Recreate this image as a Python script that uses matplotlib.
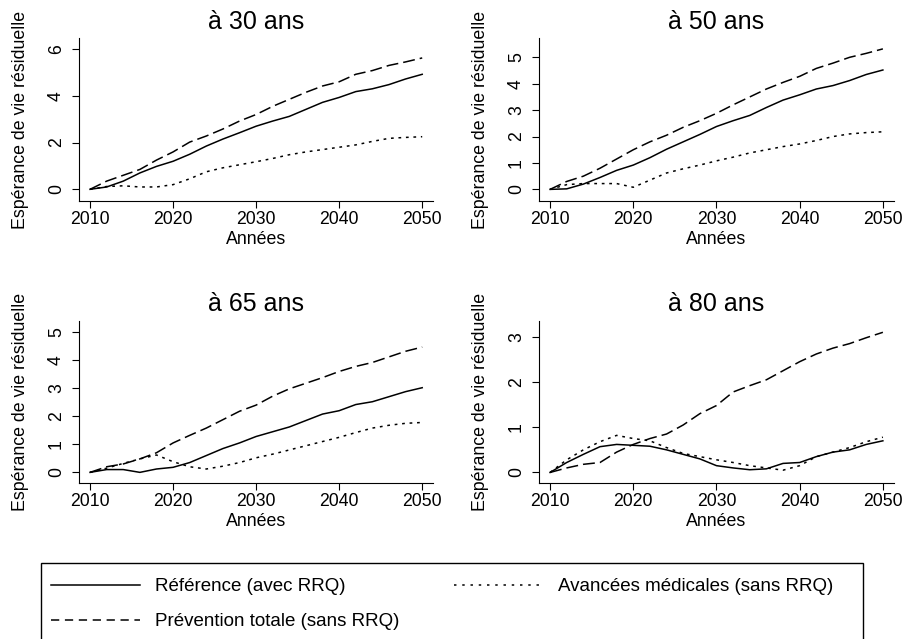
import matplotlib
matplotlib.use("Agg")
import matplotlib.pyplot as plt
from matplotlib.lines import Line2D
from matplotlib.patches import Rectangle

plt.rcParams['font.family'] = ['Liberation Sans', 'DejaVu Sans']

annees = list(range(2010, 2051, 2))

# à 30 ans
ref_30 = [0, 0.1, 0.35, 0.7, 0.98, 1.2, 1.5, 1.85, 2.15, 2.42, 2.7, 2.92, 3.12,
          3.42, 3.72, 3.93, 4.18, 4.3, 4.48, 4.72, 4.92]
prev_30 = [0, 0.35, 0.6, 0.85, 1.25, 1.6, 2.02, 2.28, 2.58, 2.92, 3.2, 3.55, 3.85,
           4.15, 4.42, 4.6, 4.92, 5.08, 5.3, 5.45, 5.62]
av_30 = [0, 0.12, 0.15, 0.1, 0.1, 0.2, 0.45, 0.75, 0.92, 1.05, 1.18, 1.32, 1.48,
         1.6, 1.7, 1.8, 1.9, 2.05, 2.18, 2.22, 2.25]

# à 50 ans
ref_50 = [0, 0.02, 0.2, 0.45, 0.72, 0.92, 1.2, 1.52, 1.8, 2.08, 2.38, 2.6, 2.8,
          3.1, 3.38, 3.58, 3.8, 3.93, 4.12, 4.35, 4.52]
prev_50 = [0, 0.3, 0.5, 0.8, 1.15, 1.5, 1.8, 2.05, 2.35, 2.6, 2.88, 3.2, 3.5,
           3.8, 4.05, 4.28, 4.58, 4.78, 5.0, 5.15, 5.32]
av_50 = [0, 0.18, 0.22, 0.22, 0.22, 0.08, 0.35, 0.62, 0.78, 0.92, 1.08, 1.22, 1.38,
         1.5, 1.62, 1.72, 1.85, 2.0, 2.1, 2.15, 2.18]

# à 65 ans
ref_65 = [0, 0.1, 0.1, 0.0, 0.12, 0.18, 0.35, 0.6, 0.85, 1.05, 1.28, 1.45, 1.62,
          1.85, 2.08, 2.2, 2.42, 2.52, 2.7, 2.88, 3.02]
prev_65 = [0, 0.2, 0.3, 0.48, 0.7, 1.05, 1.32, 1.58, 1.88, 2.18, 2.4, 2.72, 2.98,
           3.18, 3.38, 3.6, 3.78, 3.92, 4.12, 4.32, 4.47]
av_65 = [0, 0.15, 0.32, 0.48, 0.62, 0.38, 0.2, 0.12, 0.22, 0.35, 0.52, 0.65, 0.8,
         0.95, 1.1, 1.25, 1.42, 1.58, 1.68, 1.75, 1.78]

# à 80 ans
ref_80 = [0, 0.22, 0.4, 0.57, 0.62, 0.6, 0.58, 0.5, 0.4, 0.3, 0.15, 0.1, 0.06,
          0.08, 0.2, 0.22, 0.35, 0.45, 0.5, 0.62, 0.7]
prev_80 = [0, 0.1, 0.18, 0.22, 0.45, 0.62, 0.75, 0.85, 1.05, 1.3, 1.48, 1.78, 1.92,
           2.05, 2.25, 2.45, 2.62, 2.75, 2.85, 2.98, 3.1]
av_80 = [0, 0.28, 0.5, 0.68, 0.82, 0.75, 0.7, 0.55, 0.42, 0.35, 0.28, 0.22, 0.15,
         0.1, 0.05, 0.15, 0.35, 0.45, 0.55, 0.68, 0.78]

titres = ['à 30 ans', 'à 50 ans', 'à 65 ans', 'à 80 ans']
yticks = [[0, 2, 4, 6], [0, 1, 2, 3, 4, 5], [0, 1, 2, 3, 4, 5], [0, 1, 2, 3]]
ylims = [(-0.50, 6.46), (-0.44, 5.72), (-0.39, 5.40), (-0.24, 3.35)]
series = [(ref_30, prev_30, av_30), (ref_50, prev_50, av_50),
          (ref_65, prev_65, av_65), (ref_80, prev_80, av_80)]

W, H = 904, 639
# axes boxes in pixels: left, top, right, bottom
boites = [(79, 38.3, 433, 201), (539, 38.3, 893.7, 201),
          (79, 321, 433, 483.3), (539, 321, 893.7, 483.3)]

fig = plt.figure(figsize=(W / 100, H / 100), dpi=100)

lw = 1.1
for i in range(4):
    l, t, r, b = boites[i]
    ax = fig.add_axes([l / W, 1 - b / H, (r - l) / W, (b - t) / H])
    ref, prev, av = series[i]
    ax.plot(annees, ref, color='black', lw=lw, solid_joinstyle='round')
    ax.plot(annees, prev, color='black', lw=lw, linestyle=(0, (7.8, 3.3)))
    ax.plot(annees, av, color='black', lw=lw, linestyle=(0, (1.8, 3.1)))
    ax.set_xlim(2008.67, 2051.3)
    ax.set_ylim(*ylims[i])
    ax.set_xticks([2010, 2020, 2030, 2040, 2050])
    ax.set_yticks(yticks[i])
    for lbl in ax.get_yticklabels():
        lbl.set_rotation(90)
        lbl.set_va('center')
    ax.spines['top'].set_visible(False)
    ax.spines['right'].set_visible(False)
    ax.spines['left'].set_linewidth(0.8)
    ax.spines['bottom'].set_linewidth(0.8)
    ax.tick_params(axis='both', direction='out', length=5, width=0.8,
                   labelsize=12.7, colors='black')
    ax.tick_params(axis='y', pad=5)
    ax.tick_params(axis='x', pad=2)
    ax.set_title(titres[i], fontsize=18, pad=7)
    ax.set_xlabel('Années', fontsize=12.8)
    ax.set_ylabel('Espérance de vie résiduelle', fontsize=12.8)
    ax.xaxis.set_label_coords(0.5, -0.183)
    ax.yaxis.set_label_coords(-0.141, 0.5)

# légende
fig.add_artist(Rectangle((40.7 / W, -0.05), (863 - 40.7) / W, 0.05 + 1 - 562.7 / H,
                         transform=fig.transFigure, fill=False, lw=1.0,
                         edgecolor='black'))
poignees = [
    Line2D([], [], color='black', lw=lw),
    Line2D([], [], color='black', lw=lw, linestyle=(0, (5.4, 3.7))),
    Line2D([], [], color='black', lw=lw, linestyle=(0, (1.6, 3.8))),
]
etiquettes = ['Référence (avec RRQ)', 'Prévention totale (sans RRQ)',
              'Avancées médicales (sans RRQ)']
fig.legend(poignees, etiquettes, loc='upper left',
           bbox_to_anchor=(51 / W, 1 - 578 / H), ncol=2, frameon=False,
           fontsize=13.5, handlelength=4.75, handletextpad=0.8,
           columnspacing=2.9, labelspacing=0.96, borderpad=0, borderaxespad=0)

fig.savefig('out.png', dpi=100)
